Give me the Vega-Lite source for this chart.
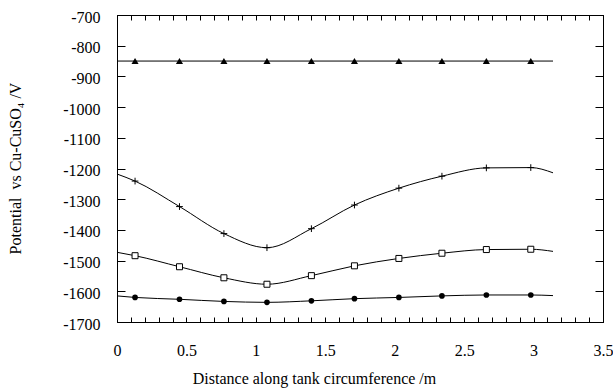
{
  "$schema": "https://vega.github.io/schema/vega-lite/v6.json",
  "autosize": {"type": "none"},
  "width": 486,
  "height": 307,
  "padding": {"left": 117, "top": 15, "right": 10, "bottom": 67},
  "background": "white",
  "config": {
    "view": {"stroke": "black", "strokeWidth": 1},
    "font": "Liberation Serif"
  },
  "data": {"values": [
    {"s": "T", "x": 0, "y": -850, "m": 0},
    {"s": "T", "x": 0.13, "y": -850, "m": 1},
    {"s": "T", "x": 0.45, "y": -850, "m": 1},
    {"s": "T", "x": 0.77, "y": -850, "m": 1},
    {"s": "T", "x": 1.08, "y": -850, "m": 1},
    {"s": "T", "x": 1.40, "y": -850, "m": 1},
    {"s": "T", "x": 1.71, "y": -850, "m": 1},
    {"s": "T", "x": 2.03, "y": -850, "m": 1},
    {"s": "T", "x": 2.34, "y": -850, "m": 1},
    {"s": "T", "x": 2.66, "y": -850, "m": 1},
    {"s": "T", "x": 2.98, "y": -850, "m": 1},
    {"s": "T", "x": 3.14, "y": -850, "m": 0},
    {"s": "P", "x": 0, "y": -1218, "m": 0},
    {"s": "P", "x": 0.13, "y": -1241, "m": 1},
    {"s": "P", "x": 0.45, "y": -1324, "m": 1},
    {"s": "P", "x": 0.77, "y": -1412, "m": 1},
    {"s": "P", "x": 1.08, "y": -1458, "m": 1},
    {"s": "P", "x": 1.40, "y": -1396, "m": 1},
    {"s": "P", "x": 1.71, "y": -1319, "m": 1},
    {"s": "P", "x": 2.03, "y": -1264, "m": 1},
    {"s": "P", "x": 2.34, "y": -1225, "m": 1},
    {"s": "P", "x": 2.66, "y": -1198, "m": 1},
    {"s": "P", "x": 2.98, "y": -1197, "m": 1},
    {"s": "P", "x": 3.14, "y": -1214, "m": 0},
    {"s": "S", "x": 0, "y": -1473, "m": 0},
    {"s": "S", "x": 0.13, "y": -1484, "m": 1},
    {"s": "S", "x": 0.45, "y": -1520, "m": 1},
    {"s": "S", "x": 0.77, "y": -1556, "m": 1},
    {"s": "S", "x": 1.08, "y": -1577, "m": 1},
    {"s": "S", "x": 1.40, "y": -1549, "m": 1},
    {"s": "S", "x": 1.71, "y": -1517, "m": 1},
    {"s": "S", "x": 2.03, "y": -1493, "m": 1},
    {"s": "S", "x": 2.34, "y": -1476, "m": 1},
    {"s": "S", "x": 2.66, "y": -1464, "m": 1},
    {"s": "S", "x": 2.98, "y": -1463, "m": 1},
    {"s": "S", "x": 3.14, "y": -1470, "m": 0},
    {"s": "C", "x": 0, "y": -1615, "m": 0},
    {"s": "C", "x": 0.13, "y": -1620, "m": 1},
    {"s": "C", "x": 0.45, "y": -1626, "m": 1},
    {"s": "C", "x": 0.77, "y": -1633, "m": 1},
    {"s": "C", "x": 1.08, "y": -1636, "m": 1},
    {"s": "C", "x": 1.40, "y": -1631, "m": 1},
    {"s": "C", "x": 1.71, "y": -1624, "m": 1},
    {"s": "C", "x": 2.03, "y": -1620, "m": 1},
    {"s": "C", "x": 2.34, "y": -1615, "m": 1},
    {"s": "C", "x": 2.66, "y": -1612, "m": 1},
    {"s": "C", "x": 2.98, "y": -1612, "m": 1},
    {"s": "C", "x": 3.14, "y": -1614, "m": 0}
  ]},
  "resolve": {"axis": {"x": "independent", "y": "independent"}},
  "layer": [
    {
      "mark": {"type": "line", "interpolate": "monotone", "color": "black", "strokeWidth": 1},
      "encoding": {
        "x": {"field": "x", "type": "quantitative", "scale": {"domain": [0, 3.5], "nice": false, "zero": false},
          "axis": {"orient": "bottom", "gridOpacity": 0, "domainColor": "black", "tickColor": "black", "labelColor": "black", "titleColor": "black",
            "tickCount": 35, "tickSize": -5,
            "labelPadding": 25, "labelFlush": false, "labelFont": "Liberation Serif", "labelFontSize": 16,
            "labelExpr": "abs(datum.value * 2 - round(datum.value * 2)) < 0.001 ? '' + datum.value : ''",
            "title": "Distance along tank circumference /m", "titleFont": "Liberation Serif", "titleFontSize": 16, "titleFontWeight": "normal", "titleX": 197, "titleY": 56, "titleBaseline": "middle", "titleAlign": "center"}},
        "y": {"field": "y", "type": "quantitative", "scale": {"domain": [-1700, -700], "nice": false, "zero": false},
          "axis": {"orient": "left", "gridOpacity": 0, "domainColor": "black", "tickColor": "black", "labelColor": "black", "titleColor": "black",
            "tickCount": 10, "tickSize": -8, "labelPadding": 25, "labelOffset": 2, "labelFlush": false, "labelFont": "Liberation Serif", "labelFontSize": 16, "labelExpr": "'' + datum.value",
            "title": "Potential\u00a0 vs Cu-CuSO\u2084 /V", "titleFont": "Liberation Serif", "titleFontSize": 16, "titleFontWeight": "normal", "titleX": -102, "titleY": 153, "titleAngle": -90, "titleBaseline": "middle", "titleAlign": "center"}},
        "detail": {"field": "s"}
      }
    },
    {
      "transform": [{"filter": "datum.s == 'T' && datum.m == 1"}],
      "mark": {"type": "point", "shape": "triangle-up", "filled": true, "color": "black", "size": 50, "opacity": 1},
      "encoding": {
        "x": {"field": "x", "type": "quantitative", "axis": {"orient": "top", "gridOpacity": 0, "domainColor": "black", "tickColor": "black",
            "tickCount": 35, "tickSize": -5, "labels": false, "title": null}},
        "y": {"field": "y", "type": "quantitative", "axis": {"orient": "right", "gridOpacity": 0, "domainColor": "black", "tickColor": "black", "tickCount": 10, "tickSize": -8, "labels": false, "title": null}}
      }
    },
    {
      "transform": [{"filter": "datum.s == 'P' && datum.m == 1"}],
      "mark": {"type": "point", "shape": "M-1,0H1M0,-1V1", "filled": false, "color": "black", "strokeWidth": 1, "size": 45, "opacity": 1},
      "encoding": {
        "x": {"field": "x", "type": "quantitative", "axis": null},
        "y": {"field": "y", "type": "quantitative", "axis": null}
      }
    },
    {
      "transform": [{"filter": "datum.s == 'S' && datum.m == 1"}],
      "mark": {"type": "point", "shape": "square", "filled": false, "color": "black", "fill": "white", "strokeWidth": 1, "size": 36, "opacity": 1},
      "encoding": {
        "x": {"field": "x", "type": "quantitative", "axis": null},
        "y": {"field": "y", "type": "quantitative", "axis": null}
      }
    },
    {
      "transform": [{"filter": "datum.s == 'C' && datum.m == 1"}],
      "mark": {"type": "point", "shape": "circle", "filled": true, "color": "black", "size": 32, "opacity": 1},
      "encoding": {
        "x": {"field": "x", "type": "quantitative", "axis": null},
        "y": {"field": "y", "type": "quantitative", "axis": null}
      }
    }
  ]
}
